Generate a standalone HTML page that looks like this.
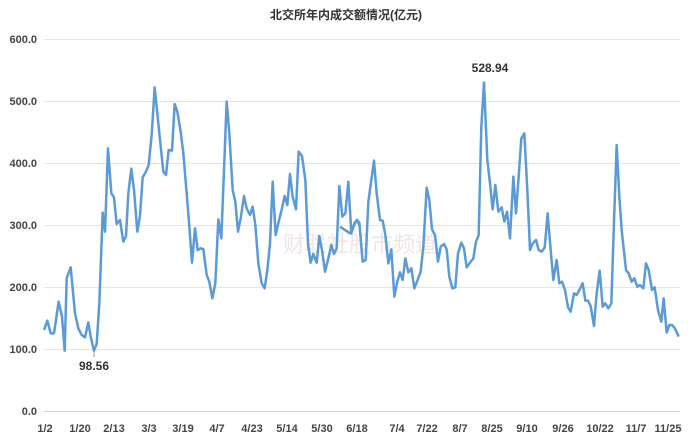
<!DOCTYPE html>
<html><head><meta charset="utf-8"><style>
html,body{margin:0;padding:0;background:#fff;}
svg{display:block;font-family:"Liberation Sans","Noto Sans CJK SC",sans-serif;}
</style></head><body>
<svg width="692" height="441" viewBox="0 0 692 441">
<rect width="692" height="441" fill="#fff"/>
<text x="346" y="19" text-anchor="middle" font-size="12" font-weight="bold" fill="#333">北交所年内成交额情况(亿元)</text>
<g stroke="#e6e6e6" stroke-width="1">
<line x1="44" x2="680" y1="39.5" y2="39.5"/>
<line x1="44" x2="680" y1="101.5" y2="101.5"/>
<line x1="44" x2="680" y1="163.5" y2="163.5"/>
<line x1="44" x2="680" y1="225.5" y2="225.5"/>
<line x1="44" x2="680" y1="287.5" y2="287.5"/>
<line x1="44" x2="680" y1="349.5" y2="349.5"/>
</g>
<line x1="44" x2="680" y1="411.5" y2="411.5" stroke="#d0d0d0"/>
<g id="ticks" stroke="#d0d0d0"></g>
<g font-size="11" font-weight="bold" fill="#444" text-anchor="end">
<text x="37" y="43">600.0</text><text x="37" y="105">500.0</text><text x="37" y="167">400.0</text>
<text x="37" y="229">300.0</text><text x="37" y="291">200.0</text><text x="37" y="353">100.0</text><text x="37" y="415">0.0</text>
</g>
<g font-size="11" font-weight="bold" fill="#444" text-anchor="middle">
<text x="45" y="432">1/2</text><text x="80" y="432">1/20</text><text x="114" y="432">2/13</text><text x="149" y="432">3/3</text>
<text x="183" y="432">3/19</text><text x="217" y="432">4/7</text><text x="252" y="432">4/23</text><text x="287" y="432">5/14</text>
<text x="322" y="432">5/30</text><text x="357" y="432">6/18</text><text x="397" y="432">7/4</text><text x="427" y="432">7/22</text>
<text x="460" y="432">8/7</text><text x="492" y="432">8/25</text><text x="527" y="432">9/10</text><text x="563" y="432">9/26</text>
<text x="600" y="432">10/22</text><text x="636" y="432">11/7</text><text x="668" y="432">11/25</text>
</g>
<text x="283" y="252" font-size="22" fill="#f0e4e4">财联社股市频道</text>
<g fill="none" stroke="#5b9bd5" stroke-width="2.5" stroke-linejoin="round">
<polyline transform="translate(30,70) scale(0.33333)" vector-effect="non-scaling-stroke" points="42,780 52,752 62,790 72,790 86,695 96,740 104,842 110,625 122,592 135,730 145,775 155,795 165,802 175,757 182,800 192,842 200,822 208,700 218,428 225,485 234,235 244,370 252,382 260,462 270,450 280,515 288,498 295,370 304,296 312,360 322,485 330,437 338,322 348,305 356,285 365,195 374,52 382,130 390,210 400,305 408,315 416,240 426,242 434,102 442,125 452,185 460,250 470,370 478,470 486,578 495,475 503,540 512,535 520,537 530,615 538,635 547,685 556,640 565,448 574,505 582,300 590,95 598,190 608,360 616,395 624,485 632,445 642,378 650,415 660,435 668,410 676,465 685,580 695,640 704,655 712,600 720,520 728,335 737,495 746,455 756,415 764,378 772,405 780,312 788,380 798,418 806,245 816,258 826,330 834,520 842,578 850,552 860,578 868,498 876,540 885,605 895,565 904,525 912,552 920,535 928,348 937,440 946,430 955,335 964,490 973,460 982,450 990,470"/>
<polyline transform="translate(350,70) scale(0.33333)" vector-effect="non-scaling-stroke" points="-30,470 0,490 10,470 20,450 28,458 38,575 47,570 55,395 64,330 72,272 80,370 90,450 98,452 106,495 115,580 124,538 133,680 142,635 150,607 158,630 166,565 175,607 184,595 193,655 202,632 212,605 220,530 230,353 238,390 246,478 255,495 264,575 272,530 282,522 290,538 298,620 307,655 316,652 324,550 334,518 342,535 350,592 360,578 370,565 378,515 386,495 394,170 402,38 412,270 420,340 428,418 436,345 445,425 455,412 463,455 471,425 480,505 490,320 498,430 506,320 514,205 523,190 532,360 540,540 548,520 558,510 566,540 575,545 584,533 593,430 602,540 610,630 620,570 628,640 636,635 645,660 654,712 662,725 672,670 680,675 688,660 698,640 706,692 714,692 722,708 732,768 740,670 749,602 758,710 766,700 775,715 784,700 792,455 800,225 808,380 815,480 822,545 828,600 836,610 845,635 853,625 862,650 870,645 880,655 888,580 896,600 906,660 914,652 924,720 934,755 941,685 950,788 958,765 966,765 975,775 986,800"/>
</g>
<line x1="94" y1="351" x2="94" y2="357" stroke="#999"/>
<text x="94" y="370" text-anchor="middle" font-size="12" font-weight="bold" fill="#333">98.56</text>
<text x="490" y="72" text-anchor="middle" font-size="12" font-weight="bold" fill="#333">528.94</text>
<script>
var g=document.getElementById('ticks'),s='';
for(var x=44;x<=681;x+=8.4){s+='<line x1="'+x.toFixed(1)+'" x2="'+x.toFixed(1)+'" y1="411" y2="415"/>';}
g.innerHTML=s;
</script>
</svg>
</body></html>
